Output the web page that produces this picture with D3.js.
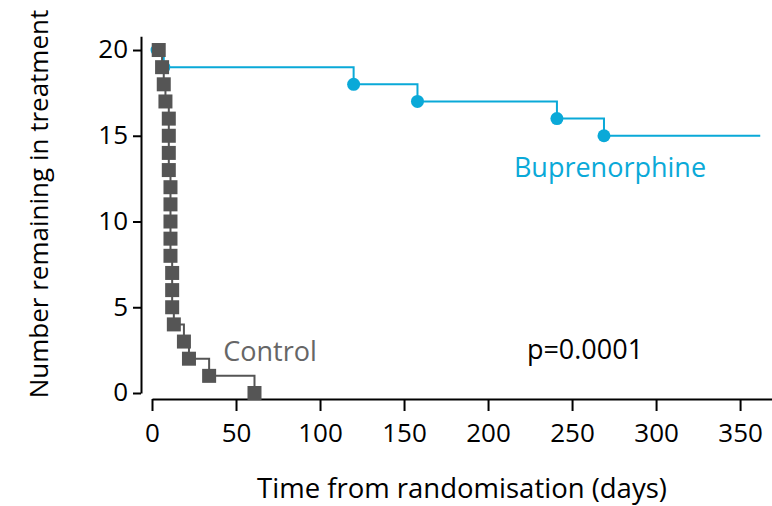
<!DOCTYPE html>
<html lang="en">
<head>
<script src="https://d3js.org/d3.v7.min.js"></script>
<style>
  body { margin: 0; background: #fff; }
  svg text { font-family: "Open Sans", Lato, sans-serif; }
</style>
</head>
<body>
<div id="chart"></div>
<script>
// Control group: time of each event (days) and number left after it
var controlDays  = [4, 6, 7, 8, 10, 10, 10, 10, 11, 11, 11, 11, 11, 12, 12, 12, 13, 19, 22, 34, 61];
var controlLeft  = [20, 19, 18, 17, 16, 15, 14, 13, 12, 11, 10, 9, 8, 7, 6, 5, 4, 3, 2, 1, 0];

// Buprenorphine group
var bupDays = [3, 7, 120, 158, 241, 269];
var bupLeft = [20, 19, 18, 17, 16, 15];
var bupEnd = 362;

var xTicks = [0, 50, 100, 150, 200, 250, 300, 350];
var yTicks = [0, 5, 10, 15, 20];

var W = 772, H = 506;
var blue = "#0aa9d8", grey = "#555555";

var svg = d3.select("#chart").append("svg")
    .attr("width", W).attr("height", H);

var x = d3.scaleLinear().domain([0, 369]).range([152, 772]);
var y = d3.scaleLinear().domain([0, 20.8]).range([393, 36.3]);

// axes
var xAxis = svg.append("g")
    .attr("transform", "translate(0,399)")
    .call(d3.axisBottom(x).tickValues(xTicks).tickSize(12).tickSizeOuter(0).tickPadding(13));
var yAxis = svg.append("g")
    .attr("transform", "translate(141,0)")
    .call(d3.axisLeft(y).tickValues(yTicks).tickSize(8).tickSizeOuter(0).tickPadding(5));

[xAxis, yAxis].forEach(function(a) {
    a.select(".domain").attr("stroke", "#000").attr("stroke-width", 2);
    a.selectAll(".tick line").attr("stroke", "#000").attr("stroke-width", 2);
    a.selectAll(".tick text").attr("fill", "#000").style("font-size", "26px");
});
yAxis.selectAll(".tick text").attr("dy", "0.3em");

// step path builder
function steps(days, left, start, end) {
    var pts = [[0, start]];
    var cur = start;
    for (var i = 0; i < days.length; i++) {
        pts.push([days[i], cur]);
        pts.push([days[i], left[i]]);
        cur = left[i];
    }
    if (end != null) pts.push([end, cur]);
    return d3.line().x(function(d) { return x(d[0]); }).y(function(d) { return y(d[1]); })(pts);
}

// buprenorphine
svg.append("path")
    .attr("d", steps(bupDays, bupLeft, 20, bupEnd))
    .attr("fill", "none").attr("stroke", blue).attr("stroke-width", 2);
svg.selectAll(".bup").data(bupDays).enter().append("circle")
    .attr("cx", function(d) { return x(d); })
    .attr("cy", function(d, i) { return y(bupLeft[i]); })
    .attr("r", 6.5).attr("fill", blue);

// control
svg.append("path")
    .attr("d", steps(controlDays, controlLeft, 20, null))
    .attr("fill", "none").attr("stroke", grey).attr("stroke-width", 2);
svg.selectAll(".ctl").data(controlDays).enter().append("rect")
    .attr("x", function(d) { return x(d) - 7; })
    .attr("y", function(d, i) { return y(controlLeft[i]) - 7; })
    .attr("width", 14).attr("height", 14).attr("fill", grey);

// labels
svg.append("text").attr("x", 462).attr("y", 498).attr("text-anchor", "middle")
    .style("font-size", "27.5px").attr("fill", "#000").text("Time from randomisation (days)");
svg.append("text").attr("transform", "translate(48,204) rotate(-90)").attr("text-anchor", "middle")
    .style("font-size", "26px").attr("fill", "#000").text("Number remaining in treatment");
svg.append("text").attr("x", 610).attr("y", 177).attr("text-anchor", "middle")
    .style("font-size", "27px").attr("fill", blue).text("Buprenorphine");
svg.append("text").attr("x", 270).attr("y", 361).attr("text-anchor", "middle")
    .style("font-size", "27px").attr("fill", "#666").text("Control");
svg.append("text").attr("x", 585).attr("y", 359).attr("text-anchor", "middle")
    .style("font-size", "27px").attr("fill", "#000").text("p=0.0001");
</script>
</body>
</html>
